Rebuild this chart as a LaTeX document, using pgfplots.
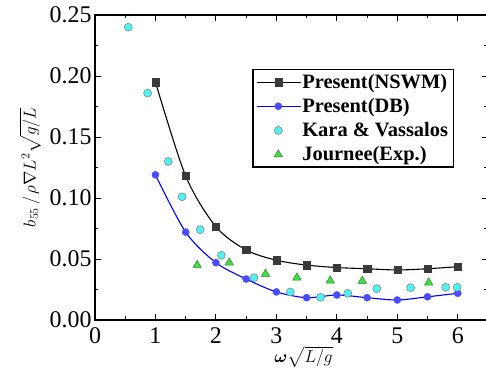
\documentclass[border=0pt]{standalone}
\usepackage{amsmath}
\usepackage{fontspec}
\setmainfont{Liberation Serif}
\usepackage{pgfplots}
\pgfplotsset{compat=1.18}
\usetikzlibrary{calc}
\definecolor{sqgray}{HTML}{3A3A3A}
\definecolor{dbblue}{HTML}{0000FF}
\definecolor{dbmark}{HTML}{4A4AFF}
\definecolor{kcyan}{HTML}{4FF2F2}
\definecolor{jgreen}{HTML}{44DD44}
\definecolor{jgreend}{HTML}{1E8A1E}
\begin{document}
\begin{tikzpicture}
\begin{axis}[name=ax,
  scale only axis, width=393bp, height=305bp,
  xmin=0, xmax=6.5, ymin=0, ymax=0.25,
  xtick={0,1,2,3,4,5,6},
  ytick={0,0.05,0.10,0.15,0.20,0.25},
  minor x tick num=1, minor y tick num=1,
  tick align=inside, major tick length=6bp, minor tick length=3.5bp,
  axis line style={line width=1.2bp},
  every tick/.style={line width=0.9bp, black},
  tick label style={font=\fontsize{24}{24}\selectfont},
  /pgf/number format/assume math mode=true,
  yticklabel style={/pgf/number format/.cd, fixed, fixed zerofill, precision=2},
  xticklabel style={yshift=-4bp},
  xlabel={$\boldsymbol{\omega}\sqrt{L/g}$},
  xlabel style={font=\fontsize{17}{17}\selectfont, xshift=12bp, yshift=4bp},
  ylabel={$b_{55}\,/\,\rho\nabla L^{2}\sqrt{g/L}$},
  ylabel style={font=\fontsize{18.5}{18.5}\selectfont, yshift=2bp},
  legend cell align=left,
  legend style={at={(0.3995,0.823)}, anchor=north west, draw=black, line width=1.5bp,
    font=\bfseries\fontsize{20.5}{20.5}\selectfont, row sep=5.5bp,
    nodes={inner sep=1.5bp}, inner xsep=4bp, inner ysep=3bp},
]
\addplot[black, line width=1.1bp, smooth, mark=square*, mark size=3.6bp,
  mark options={fill=sqgray, draw=sqgray, line width=0.3bp},
  legend image code/.code={\draw[mark repeat=2, mark phase=2] plot coordinates {(0bp,0bp)(21bp,0bp)(43bp,0bp)};}]
coordinates {(1,0.195)(1.5,0.118)(2,0.0765)(2.5,0.0574)(3,0.049)(3.5,0.045)(4,0.043)(4.5,0.042)(5,0.041)(5.5,0.042)(6,0.0437)};
\addlegendentry{Present(NSWM)}
\addplot[dbblue, line width=1.1bp, smooth, mark=*, mark size=3.6bp,
  mark options={fill=dbmark, draw=dbmark, line width=0.3bp},
  legend image code/.code={\draw[mark repeat=2, mark phase=2] plot coordinates {(0bp,0bp)(21bp,0bp)(43bp,0bp)};}]
coordinates {(1,0.119)(1.5,0.072)(2,0.047)(2.5,0.0336)(3,0.023)(3.5,0.0183)(4,0.0205)(4.5,0.0183)(5,0.0164)(5.5,0.019)(6,0.0219)};
\addlegendentry{Present(DB)}
\addplot[only marks, mark=*, mark size=4bp,
  mark options={fill=kcyan, draw=gray, line width=0.5bp},
  legend image code/.code={\draw plot coordinates {(21bp,0bp)};}]
coordinates {(0.55,0.240)(0.87,0.186)(1.21,0.130)(1.44,0.101)(1.74,0.074)(2.09,0.053)(2.63,0.0347)(3.23,0.023)(3.73,0.0186)(4.18,0.0219)(4.66,0.0257)(5.22,0.0265)(5.80,0.0268)(5.99,0.0268)};
\addlegendentry{Kara \& Vassalos}
\addplot[only marks, mark=triangle*, mark size=4.8bp,
  mark options={fill=jgreen, draw=jgreend, line width=0.5bp},
  legend image code/.code={\draw plot coordinates {(21bp,0bp)};}]
coordinates {(1.69,0.045)(2.22,0.047)(2.82,0.0377)(3.34,0.0347)(3.89,0.0322)(4.42,0.032)(5.52,0.0306)};
\addlegendentry{Journee(Exp.)}
\end{axis}
\pgfresetboundingbox
\path[use as bounding box] ($(ax.south west)+(-95bp,-54bp)$) rectangle ($(ax.south west)+(391bp,320bp)$);
\end{tikzpicture}
\end{document}
